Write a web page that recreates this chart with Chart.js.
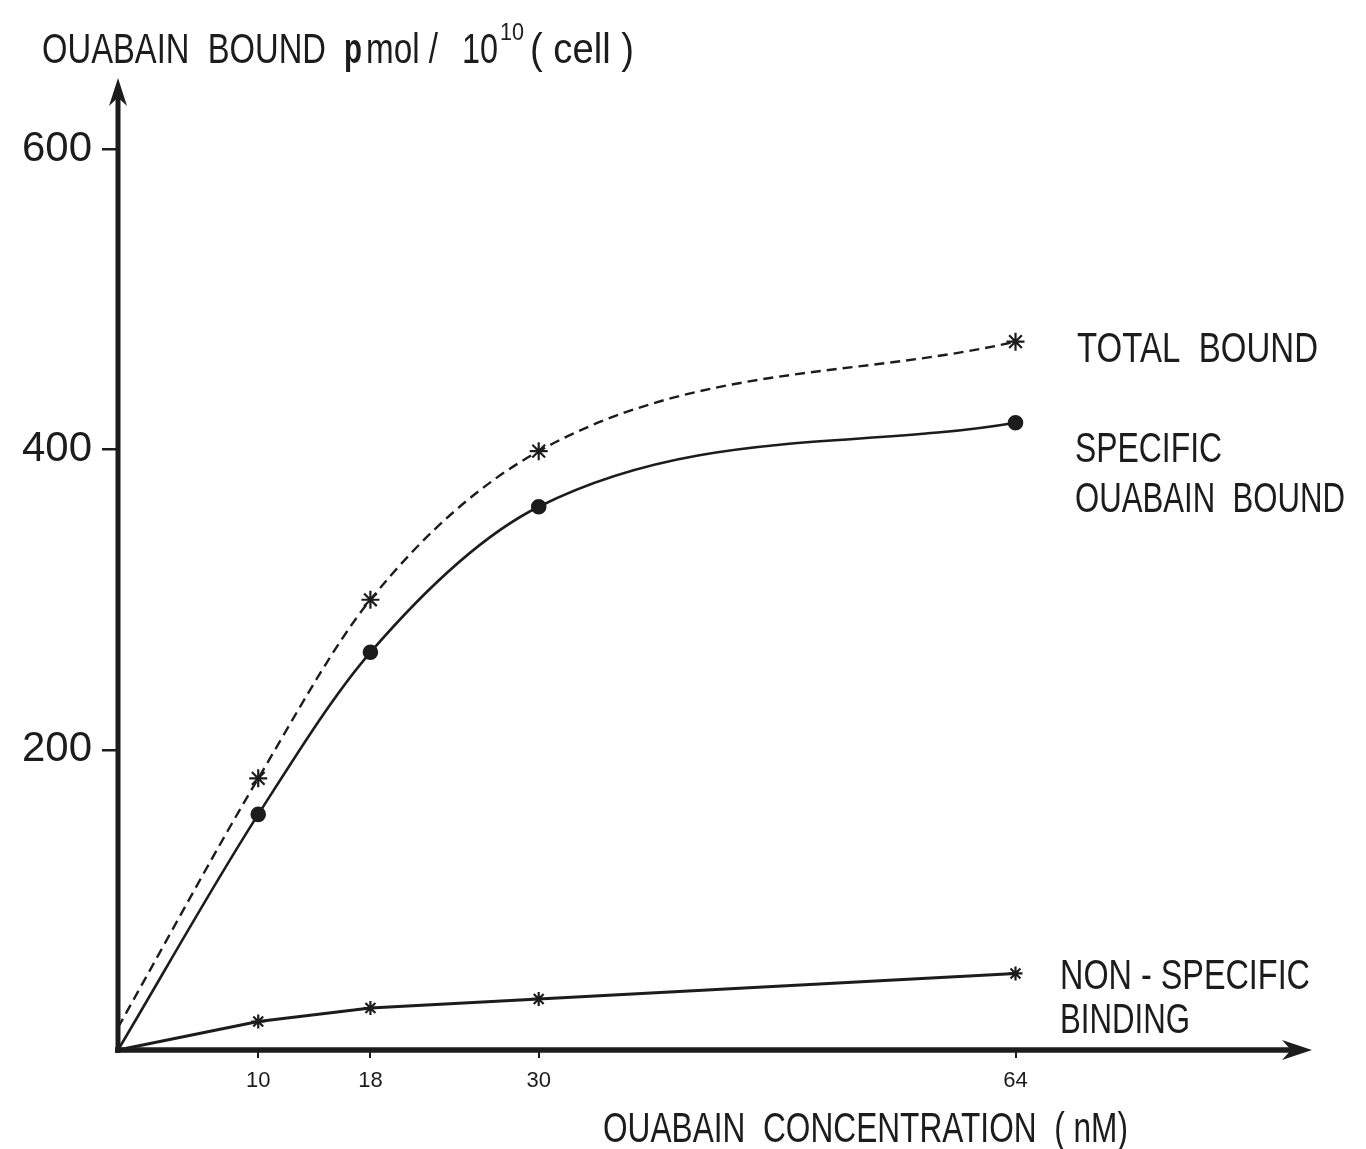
<!DOCTYPE html>
<html>
<head>
<meta charset="utf-8">
<script src="https://cdn.jsdelivr.net/npm/chart.js@4.4.1/dist/chart.umd.min.js"></script>
<style>
  html, body { margin: 0; padding: 0; background: #fff; }
  #wrap { width: 1366px; height: 1149px; }
</style>
</head>
<body>
<div id="wrap"><canvas id="chart" width="1366" height="1149"></canvas></div>
<script>
// values (ouabain nM vs pmol / 10^10 cells)
const concentrations = [0, 10, 18, 30, 64];
const totalBound = [15, 181, 300, 399, 472];
const specificBound = [0, 157, 265, 362, 418];
const nonSpecific = [0, 19, 28, 34, 51];
const xTicks = [10, 18, 30, 64];
const yTicks = [200, 400, 600];

const INK = "#1c1c1c";
const FONT = '"Liberation Sans", Arial, sans-serif';

// hand lettering on the figure, condensed to the measured width
const labels = [
  { text: "OUABAIN  BOUND", x: 42, y: 63, size: 43, w: 284 },
  { text: "p", x: 344, y: 63, size: 43, w: 18, weight: "bold" },
  { text: "mol /", x: 366, y: 63, size: 43, w: 72 },
  { text: "10", x: 462, y: 63, size: 43, w: 36 },
  { text: "10", x: 500, y: 40, size: 24, w: 24 },
  { text: "( cell )", x: 530, y: 63, size: 43, w: 104 },
  { text: "OUABAIN  CONCENTRATION  ( nM)", x: 603, y: 1142, size: 42, w: 525 },
  { text: "TOTAL  BOUND", x: 1077, y: 362, size: 43, w: 241 },
  { text: "SPECIFIC", x: 1075, y: 462, size: 43, w: 147 },
  { text: "OUABAIN  BOUND", x: 1075, y: 512, size: 43, w: 270 },
  { text: "NON - SPECIFIC", x: 1060, y: 989, size: 43, w: 250 },
  { text: "BINDING", x: 1060, y: 1033, size: 43, w: 130 },
];

const toPoints = (ys) => concentrations.map((x, i) => ({ x: x, y: ys[i] }));

function arrow(ctx, tipX, tipY, dx, dy, len, half) {
  // barbed arrow head pointing along (dx, dy)
  const px = -dy, py = dx;
  ctx.beginPath();
  ctx.moveTo(tipX, tipY);
  ctx.lineTo(tipX - dx * len + px * half, tipY - dy * len + py * half);
  ctx.lineTo(tipX - dx * len * 0.7, tipY - dy * len * 0.7);
  ctx.lineTo(tipX - dx * len - px * half, tipY - dy * len - py * half);
  ctx.closePath();
  ctx.fill();
}

const figurePlugin = {
  id: "figure",
  afterDraw(chart) {
    const ctx = chart.ctx;
    const xs = chart.scales.x, ys = chart.scales.y;
    const x0 = xs.getPixelForValue(0), y0 = ys.getPixelForValue(0);
    const top = chart.chartArea.top, right = chart.chartArea.right;
    ctx.save();
    ctx.strokeStyle = INK;
    ctx.fillStyle = INK;
    ctx.lineCap = "butt";

    ctx.lineWidth = 5;
    ctx.beginPath();
    ctx.moveTo(x0, y0 + 3);
    ctx.lineTo(x0, top + 15);
    ctx.stroke();
    arrow(ctx, x0, top - 4, 0, -1, 28, 9);

    ctx.lineWidth = 5.5;
    ctx.beginPath();
    ctx.moveTo(x0 - 3, y0);
    ctx.lineTo(right - 15, y0);
    ctx.stroke();
    arrow(ctx, right + 2, y0, 1, 0, 30, 10);

    ctx.textBaseline = "alphabetic";
    ctx.textAlign = "left";
    labels.forEach((t) => {
      ctx.font = `${t.weight || "normal"} ${t.size}px ${FONT}`;
      ctx.fillText(t.text, t.x, t.y, t.w);
    });
    ctx.restore();
  },
};

new Chart(document.getElementById("chart"), {
  type: "scatter",
  data: {
    datasets: [
      {
        label: "TOTAL BOUND",
        data: toPoints(totalBound),
        showLine: true,
        borderColor: INK,
        borderWidth: 2.4,
        borderDash: [10, 6],
        cubicInterpolationMode: "monotone",
        pointStyle: "star",
        pointRadius: [0, 9, 9, 9, 9],
        pointBorderWidth: 2.2,
        pointBorderColor: INK,
      },
      {
        label: "SPECIFIC OUABAIN BOUND",
        data: toPoints(specificBound),
        showLine: true,
        borderColor: INK,
        borderWidth: 2.6,
        cubicInterpolationMode: "monotone",
        pointStyle: "circle",
        pointRadius: [0, 6.5, 6.5, 6.5, 6.5],
        pointBackgroundColor: INK,
        pointBorderColor: INK,
      },
      {
        label: "NON - SPECIFIC BINDING",
        data: toPoints(nonSpecific),
        showLine: true,
        borderColor: INK,
        borderWidth: 3,
        tension: 0,
        pointStyle: "star",
        pointRadius: [0, 7, 7, 7, 7],
        pointBorderWidth: 2.2,
        pointBorderColor: INK,
      },
    ],
  },
  options: {
    responsive: false,
    animation: false,
    clip: false,
    layout: { padding: { top: 82, right: 56, left: 0, bottom: 0 } },
    plugins: { legend: { display: false }, tooltip: { enabled: false } },
    scales: {
      x: {
        type: "linear",
        min: 0,
        max: 85,
        afterBuildTicks: (s) => { s.ticks = xTicks.map((v) => ({ value: v })); },
        afterFit: (s) => { s.height = 99; },
        grid: { drawOnChartArea: false, tickLength: 8, lineWidth: 2, color: INK },
        border: { display: false },
        ticks: { color: INK, padding: 10, maxRotation: 0, font: { family: FONT, size: 22 } },
      },
      y: {
        min: 0,
        max: 645,
        afterBuildTicks: (s) => { s.ticks = yTicks.map((v) => ({ value: v })); },
        afterFit: (s) => { s.width = 118; },
        grid: { drawOnChartArea: false, tickLength: 16, lineWidth: 2.5, color: INK },
        border: { display: false },
        ticks: { color: INK, padding: 10, font: { family: FONT, size: 42 } },
      },
    },
  },
  plugins: [figurePlugin],
});
</script>
</body>
</html>
